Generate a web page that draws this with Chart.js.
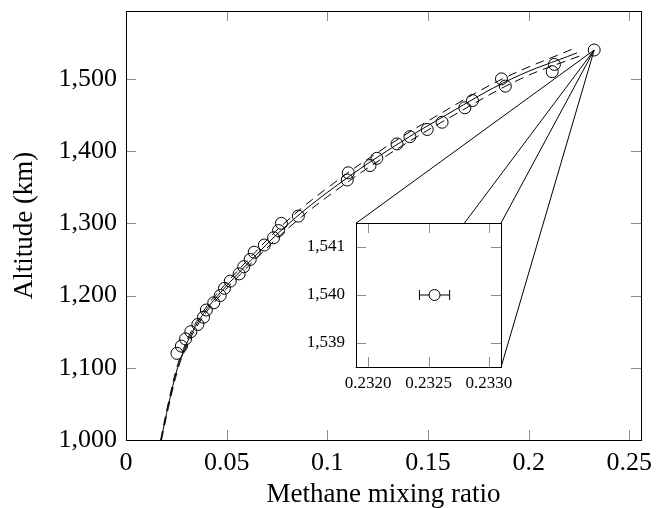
<!DOCTYPE html>
<html>
<head>
<meta charset="utf-8">
<title>Methane mixing ratio</title>
<script src="https://cdn.jsdelivr.net/npm/chart.js@4.4.1/dist/chart.umd.min.js"></script>
<style>
 html, body { margin: 0; padding: 0; background: #fff; }
 #wrap { position: relative; width: 656px; height: 508px; }
 #inset { position: absolute; left: 0; top: 0; }
</style>
</head>
<body>
<div id="wrap">
 <canvas id="main" width="656" height="508"></canvas>
 <canvas id="inset"></canvas>
</div>
<script>
 // observed profile
 var obsAlt = [1120, 1130, 1140, 1150, 1160, 1170, 1180, 1190, 1200, 1210, 1220, 1230, 1240, 1250, 1260, 1270, 1280, 1290, 1300, 1310,
  1360, 1370, 1380, 1390, 1410, 1420, 1430, 1440, 1460, 1470, 1490, 1500, 1510, 1520, 1540];
 var obsMix = [0.0253, 0.0275, 0.0296, 0.0322, 0.0357, 0.0385, 0.0399, 0.0436, 0.0468, 0.0489, 0.0518, 0.0562, 0.0585, 0.0617, 0.0637, 0.0687, 0.0733, 0.0758, 0.0772, 0.0856,
  0.1099, 0.1104, 0.1212, 0.1246, 0.1346, 0.1410, 0.1496, 0.1570, 0.1683, 0.1721, 0.1884, 0.1865, 0.2117, 0.2128, 0.23255];

 // model profile (solid) and its envelope (dashed)
 var fitAlt = [1000, 1050, 1100, 1125, 1150, 1175, 1200, 1250, 1300, 1350, 1400, 1450, 1500, 1536];
 var fitMix = [0.0174, 0.0212, 0.0256, 0.0289, 0.0330, 0.0385, 0.0456, 0.0625, 0.0810, 0.1035, 0.1295, 0.1590, 0.1915, 0.2240];
 var hiAlt = [1000, 1050, 1100, 1125, 1150, 1175, 1200, 1250, 1300, 1350, 1400, 1450, 1500, 1541];
 var hiMix = [0.0172, 0.0209, 0.0252, 0.0284, 0.0323, 0.0376, 0.0444, 0.0608, 0.0786, 0.1005, 0.1260, 0.1550, 0.1870, 0.2215];
 var loAlt = [1000, 1050, 1100, 1125, 1150, 1175, 1200, 1250, 1300, 1350, 1400, 1450, 1500, 1533];
 var loMix = [0.0176, 0.0215, 0.0260, 0.0294, 0.0337, 0.0394, 0.0468, 0.0642, 0.0834, 0.1065, 0.1330, 0.1630, 0.1960, 0.2265];

 var xTicks = [0, 0.05, 0.1, 0.15, 0.2, 0.25];
 var xTickLabels = ['0', '0.05', '0.1', '0.15', '0.2', '0.25'];
 var yTicks = [1000, 1100, 1200, 1300, 1400, 1500];
 var yTickLabels = ['1,000', '1,100', '1,200', '1,300', '1,400', '1,500'];

 // zoomed point with its error bar
 var zoomMix = [0.23255];
 var zoomAlt = [1540];
 var zoomErr = [0.000125];
 var insetXTicks = [0.2320, 0.2325, 0.2330];
 var insetXTickLabels = ['0.2320', '0.2325', '0.2330'];
 var insetYTicks = [1539, 1540, 1541];
 var insetYTickLabels = ['1,539', '1,540', '1,541'];

 // where the inset sits, in main axis units
 var box = { x0: 0.1142, x1: 0.1862, y0: 1100, y1: 1300 };

 var serif = "'Liberation Serif', 'Times New Roman', serif";

 function pts(xs, ys) {
  return xs.map(function (x, i) { return { x: x, y: ys[i] }; });
 }

 // frame + inward ticks on all four sides
 var frameTicks = {
  id: 'frameTicks',
  beforeDraw: function (chart, args, opts) {
   if (!opts.fill) return;
   var a = chart.chartArea, ctx = chart.ctx;
   ctx.save();
   ctx.fillStyle = opts.fill;
   ctx.fillRect(a.left, a.top, a.right - a.left, a.bottom - a.top);
   ctx.restore();
  },
  afterDatasetsDraw: function (chart, args, opts) {
   var ctx = chart.ctx, a = chart.chartArea;
   var xs = chart.scales.x, ys = chart.scales.y;
   var len = opts.len;
   ctx.save();
   ctx.strokeStyle = opts.tickColor;
   ctx.lineWidth = 1;
   ctx.beginPath();
   xs.ticks.forEach(function (t) {
    var px = Math.round(xs.getPixelForValue(t.value)) + 0.5;
    ctx.moveTo(px, a.bottom); ctx.lineTo(px, a.bottom - len);
    ctx.moveTo(px, a.top); ctx.lineTo(px, a.top + len);
   });
   ys.ticks.forEach(function (t) {
    var py = Math.round(ys.getPixelForValue(t.value)) + 0.5;
    ctx.moveTo(a.left, py); ctx.lineTo(a.left + len, py);
    ctx.moveTo(a.right, py); ctx.lineTo(a.right - len, py);
   });
   ctx.stroke();
   ctx.strokeStyle = '#000';
   ctx.strokeRect(Math.round(a.left) + 0.5, Math.round(a.top) + 0.5,
    Math.round(a.right - a.left), Math.round(a.bottom - a.top));
   ctx.restore();
  }
 };

 function xAxis(min, max, ticks, labels, h, size, pad, title) {
  return {
   type: 'linear', min: min, max: max,
   grid: { display: false, drawTicks: false },
   border: { display: false },
   afterBuildTicks: function (s) { s.ticks = ticks.map(function (v) { return { value: v }; }); },
   afterFit: function (s) { s.height = h; s.paddingLeft = 0; s.paddingRight = 0; },
   ticks: {
    autoSkip: false, maxRotation: 0, padding: pad, color: '#000',
    font: { family: serif, size: size },
    callback: function (v, i) { return labels[i]; }
   },
   title: title
  };
 }

 function yAxis(min, max, ticks, labels, w, size, pad, title) {
  return {
   type: 'linear', min: min, max: max,
   grid: { display: false, drawTicks: false },
   border: { display: false },
   afterBuildTicks: function (s) { s.ticks = ticks.map(function (v) { return { value: v }; }); },
   afterFit: function (s) { s.width = w; s.paddingTop = 0; s.paddingBottom = 0; },
   ticks: {
    autoSkip: false, padding: pad, color: '#000',
    font: { family: serif, size: size },
    callback: function (v, i) { return labels[i]; }
   },
   title: title
  };
 }

 var corners = [[box.x0, box.y1], [box.x0, box.y0], [box.x1, box.y1], [box.x1, box.y0]];
 var connectors = corners.map(function (c) {
  return {
   data: [{ x: zoomMix[0], y: zoomAlt[0] }, { x: c[0], y: c[1] }],
   showLine: true, borderColor: '#000', borderWidth: 1, pointRadius: 0
  };
 });

 var curve = { showLine: true, tension: 0.4, borderColor: '#000', borderWidth: 1, pointRadius: 0 };

 var mainChart = new Chart(document.getElementById('main'), {
  type: 'scatter',
  data: {
   datasets: [
    {
     data: pts(obsMix, obsAlt),
     pointStyle: 'circle', pointRadius: 6, pointBorderWidth: 1,
     pointBorderColor: '#000', pointBackgroundColor: 'rgba(0,0,0,0)'
    },
    Object.assign({ data: pts(fitMix, fitAlt) }, curve),
    Object.assign({ data: pts(hiMix, hiAlt), borderDash: [9, 6] }, curve),
    Object.assign({ data: pts(loMix, loAlt), borderDash: [9, 6] }, curve)
   ].concat(connectors)
  },
  options: {
   responsive: false, animation: false,
   layout: { padding: { left: 0, top: 11, right: 15, bottom: 0 } },
   plugins: {
    legend: { display: false }, tooltip: { enabled: false },
    frameTicks: { len: 10, tickColor: '#8c8c8c' }
   },
   scales: {
    x: xAxis(0, 0.2558, xTicks, xTickLabels, 68, 26, 8, {
     display: true, text: 'Methane mixing ratio', color: '#000',
     font: { family: serif, size: 27, lineHeight: 1 }, padding: { top: 0, bottom: 0 }
    }),
    y: yAxis(1000, 1594, yTicks, yTickLabels, 126, 26, 9, {
     display: true, text: 'Altitude (km)', color: '#000',
     font: { family: serif, size: 27, lineHeight: 1 }, padding: { top: 11, bottom: 0 }
    })
   }
  },
  plugins: [frameTicks]
 });

 // inset, laid over the box
 var xs = mainChart.scales.x, ys = mainChart.scales.y;
 var bl = xs.getPixelForValue(box.x0), br = xs.getPixelForValue(box.x1);
 var bt = ys.getPixelForValue(box.y1), bb = ys.getPixelForValue(box.y0);
 var mL = 62, mR = 30, mT = 10, mB = 30;
 var cv = document.getElementById('inset');
 cv.width = Math.round(br - bl) + mL + mR;
 cv.height = Math.round(bb - bt) + mT + mB;

 var insetChart = new Chart(cv, {
  type: 'scatter',
  data: {
   datasets: [
    {
     data: [{ x: zoomMix[0], y: zoomAlt[0] }],
     pointStyle: 'circle', pointRadius: 5.5, pointBorderWidth: 1,
     pointBorderColor: '#000', pointBackgroundColor: '#fff'
    },
    {
     data: [{ x: zoomMix[0] - zoomErr[0], y: zoomAlt[0] }, { x: zoomMix[0] + zoomErr[0], y: zoomAlt[0] }],
     showLine: true, borderColor: '#000', borderWidth: 1,
     pointStyle: 'line', pointRotation: 90, pointRadius: 5, pointBorderWidth: 1, pointBorderColor: '#000'
    }
   ]
  },
  options: {
   responsive: false, animation: false,
   layout: { padding: { left: 0, top: mT, right: mR, bottom: 0 } },
   plugins: {
    legend: { display: false }, tooltip: { enabled: false },
    frameTicks: { len: 10, tickColor: '#8c8c8c', fill: '#fff' }
   },
   scales: {
    x: xAxis(0.2319, 0.2331, insetXTicks, insetXTickLabels, mB, 17, 6, { display: false }),
    y: yAxis(1538.5, 1541.5, insetYTicks, insetYTickLabels, mL, 17, 11, { display: false })
   }
  },
  plugins: [frameTicks]
 });

 var ca = insetChart.chartArea;
 cv.style.left = Math.round(bl - ca.left) + 'px';
 cv.style.top = Math.round(bt - ca.top) + 'px';
</script>
</body>
</html>
